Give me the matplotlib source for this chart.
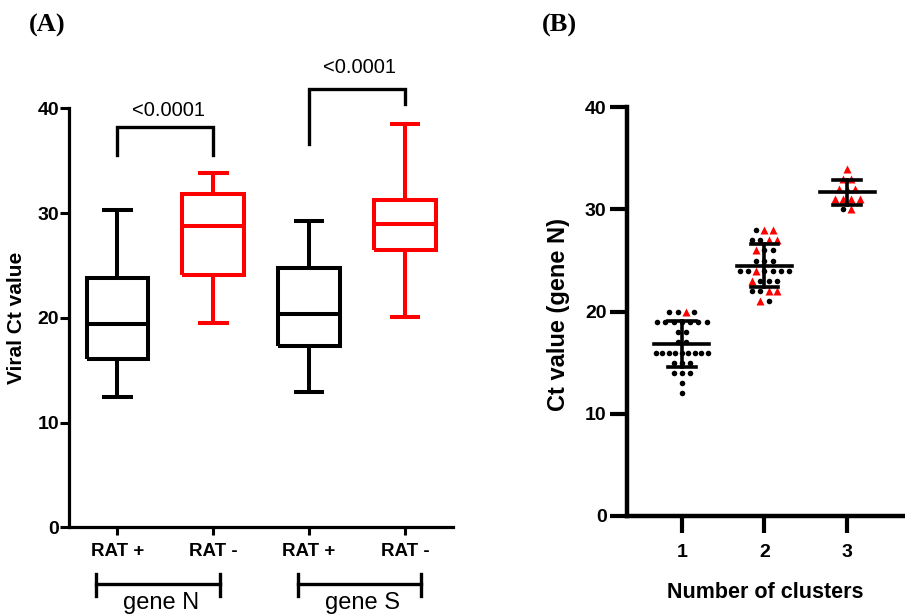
import numpy as np
import matplotlib
matplotlib.use('Agg')
import matplotlib.pyplot as plt
import matplotlib.transforms as mtransforms

plt.rcParams['font.family'] = ['Liberation Sans', 'DejaVu Sans']

# ---- panel A: box plots of viral Ct value ----
box_labels = ['RAT +', 'RAT -', 'RAT +', 'RAT -']
box_colors = ['black', 'red', 'black', 'red']
whislo = [12.4, 19.5, 12.9, 20.1]
q1 = [16.1, 24.1, 17.3, 26.5]
median = [19.4, 28.8, 20.4, 29.0]
q3 = [23.8, 31.8, 24.8, 31.2]
whishi = [30.3, 33.8, 29.2, 38.5]
genes = ['gene N', 'gene S']
p_values = ['<0.0001', '<0.0001']

# ---- panel B: Ct value by number of clusters ----
clusters = [1, 2, 3]
# values listed row by row, left to right; '+' = RAT +, '-' = RAT -
ct_c1 = [20, 20, 20, 20,
         19, 19, 19, 19, 19, 19, 19,
         18, 18, 17, 17,
         16, 16, 16, 16, 16, 16, 16, 16, 16,
         15, 15, 15, 14, 14, 14, 13, 12]
rat_c1 = ['+', '+', '-', '+'] + ['+'] * 28
ct_c2 = [28, 28, 28, 27, 27, 27, 27, 26, 26, 26, 25, 25, 25,
         24, 24, 24, 24, 24, 24, 24, 23, 23, 23, 23,
         22, 22, 22, 22, 21, 21]
rat_c2 = ['+', '-', '-', '+', '+', '-', '-', '-', '+', '+', '+', '+', '+',
          '+', '+', '-', '+', '+', '+', '+', '-', '+', '+', '+',
          '+', '+', '-', '-', '-', '+']
ct_c3 = [34, 33, 33, 32, 32, 32, 31, 31, 31, 31, 30, 30]
rat_c3 = ['-', '-', '-', '-', '-', '-', '-', '-', '-', '-', '+', '-']

W, H = 905, 615
fig = plt.figure(figsize=(W / 100, H / 100), dpi=100)


def fx(px):
    return px / W


def fy(py):
    return 1 - py / H


# ================= panel A =================
axA = fig.add_axes([fx(69.3), fy(527.3), fx(453 - 69.3), (527.3 - 108.3) / H])
pos = np.arange(len(box_labels))
for i in range(len(box_labels)):
    st = [dict(whislo=whislo[i], q1=q1[i], med=median[i], q3=q3[i],
               whishi=whishi[i], fliers=[])]
    c = box_colors[i]
    lp = dict(color=c, lw=2.9, solid_joinstyle='miter', solid_capstyle='butt')
    axA.bxp(st, positions=[pos[i]], widths=0.64, capwidths=0.32,
            boxprops=lp, whiskerprops=lp, capprops=lp, medianprops=lp,
            showfliers=False, manage_ticks=False)

axA.set_xlim(-0.5, 3.5)
axA.set_ylim(0, 40)
axA.set_yticks([0, 10, 20, 30, 40])
axA.set_xticks(pos)
axA.set_xticklabels(box_labels, fontsize=13.5, fontweight='bold')
for t in axA.get_yticklabels():
    t.set_fontsize(14)
    t.set_fontweight('bold')
axA.tick_params(axis='y', length=6.5, width=2.2, pad=1)
axA.tick_params(axis='x', length=6, width=2.2, pad=5)
for s in ['top', 'right']:
    axA.spines[s].set_visible(False)
for s in ['left', 'bottom']:
    axA.spines[s].set_linewidth(2.3)

# significance brackets
brackets = [(0, 1, 38.2, 35.5, 35.5, 39.3), (2, 3, 41.8, 36.6, 40.4, 43.4)]
for (xa, xb, top, la, lb, ty), p in zip(brackets, p_values):
    axA.plot([xa, xa, xb, xb], [la, top, top, lb], color='black', lw=2.4,
             clip_on=False, solid_joinstyle='miter')
    axA.text((xa + xb) / 2 + 0.03, ty, p, ha='center', va='baseline', fontsize=14.5)

# gene group brackets under the axis
trA = mtransforms.blended_transform_factory(axA.transData, fig.transFigure)
groups = [(-0.22, 1.07), (1.88, 3.17)]
for (ga, gb), g in zip(groups, genes):
    axA.plot([ga, gb], [fy(584), fy(584)], color='black', lw=2.4,
             transform=trA, clip_on=False)
    for gx in (ga, gb):
        axA.plot([gx, gx], [fy(574), fy(596)], color='black', lw=2.4,
                 transform=trA, clip_on=False)
    axA.text((ga + gb) / 2 + 0.03, fy(609), g, ha='center', va='baseline',
             fontsize=17, transform=trA)

fig.text(fx(17), fy(318), 'Viral Ct value', rotation=90, ha='center',
         va='center', fontsize=15, fontweight='bold')

# ================= panel B =================
axB = fig.add_axes([fx(626.7), fy(516), 1 - fx(626.7), (516 - 107.3) / H])


def swarm_offsets(vals, step, max_span):
    vals = np.asarray(vals)
    off = np.zeros(len(vals))
    for v in np.unique(vals):
        idx = np.where(vals == v)[0]
        n = len(idx)
        st = step if n < 2 else min(step, max_span / (n - 1))
        off[idx] = (np.arange(n) - (n - 1) / 2) * st
    return off


for xc, vals, rat in zip(clusters, [ct_c1, ct_c2, ct_c3], [rat_c1, rat_c2, rat_c3]):
    vals = np.array(vals, dtype=float)
    rat = np.array(rat)
    xs = xc + swarm_offsets(vals, 0.1, 0.63)
    m = rat == '+'
    axB.plot(xs[m], vals[m], 'o', color='black', ms=4, mec='none', zorder=2,
             clip_on=False)
    axB.plot(xs[~m], vals[~m], '^', color='red', ms=5.5, mec='none', zorder=2,
             clip_on=False)
    mean = vals.mean()
    sd = vals.std(ddof=1)
    axB.plot([xc - 0.333, xc + 0.333], [mean, mean], color='black', lw=2.6, zorder=3)
    axB.plot([xc, xc], [mean - sd, mean + sd], color='black', lw=2.6, zorder=3)
    for yv in (mean - sd, mean + sd):
        axB.plot([xc - 0.167, xc + 0.167], [yv, yv], color='black', lw=2.6, zorder=3)

axB.set_xlim(0.333, 3.7)
axB.set_ylim(0, 40)
axB.set_xticks(clusters)
axB.set_xticklabels([str(c) for c in clusters], fontsize=14, fontweight='bold')
axB.set_yticks([0, 10, 20, 30, 40])
for t in axB.get_yticklabels():
    t.set_fontsize(14)
    t.set_fontweight('bold')
axB.tick_params(axis='both', length=12, width=3, pad=2.5)
axB.tick_params(axis='x', pad=8.5)
for s in ['top', 'right']:
    axB.spines[s].set_visible(False)
for s in ['left', 'bottom']:
    axB.spines[s].set_linewidth(3.2)

fig.text(fx(559), fy(314), 'Ct value (gene N)', rotation=90, ha='center',
         va='center', fontsize=17, fontweight='bold')
fig.text(fx(765), fy(592), 'Number of clusters', ha='center', va='center',
         fontsize=15.5, fontweight='bold')

# panel letters
fig.text(fx(47), fy(25), '(A)', ha='center', va='center', fontsize=19,
         fontweight='bold', family=['Liberation Serif', 'DejaVu Serif'])
fig.text(fx(559), fy(25), '(B)', ha='center', va='center', fontsize=19,
         fontweight='bold', family=['Liberation Serif', 'DejaVu Serif'])

fig.savefig('out.png', dpi=100)
